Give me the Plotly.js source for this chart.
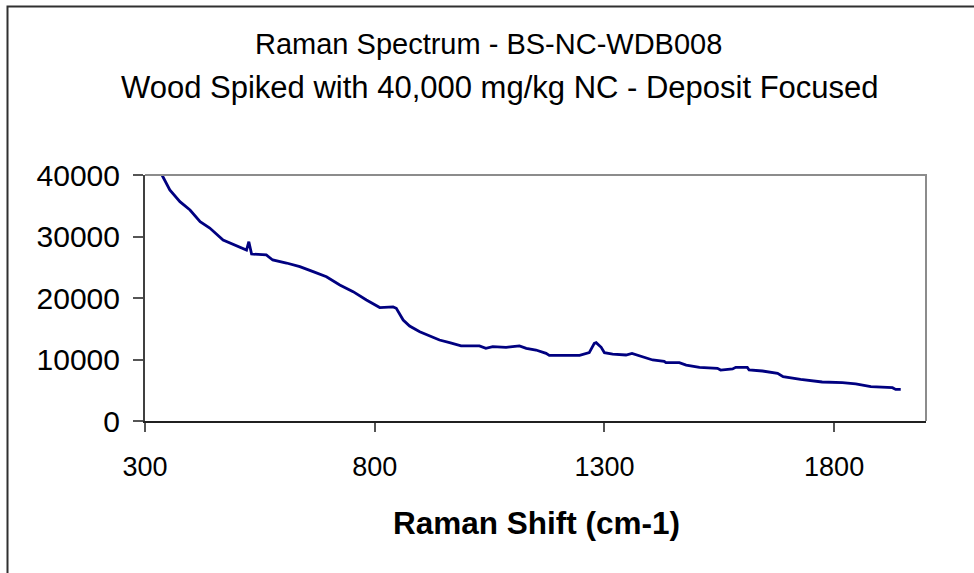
<!DOCTYPE html>
<html>
<head>
<meta charset="utf-8">
<script src="https://cdn.plot.ly/plotly-3.0.1.min.js"></script>
<style>
  html, body { margin: 0; padding: 0; background: #fff; }
  #chart { width: 974px; height: 573px; }
</style>
</head>
<body>
<div id="chart"></div>
<script>
// Raman shift (cm-1) values
const ramanShift = [337, 354, 376, 398, 420, 441, 470, 499, 521, 526, 532, 564, 578, 608, 637, 666, 695, 724, 753, 782,
  811, 840, 847, 862, 876, 898, 920, 941, 963, 988, 1028, 1042, 1057, 1086, 1100, 1115, 1130, 1151, 1173, 1180,
  1246, 1267, 1278, 1282, 1293, 1300, 1318, 1347, 1360, 1390, 1405, 1430, 1434, 1463, 1478, 1507, 1546, 1553, 1579,
  1586, 1611, 1615, 1644, 1677, 1689, 1727, 1774, 1818, 1847, 1880, 1927, 1934, 1945];
// Intensity values
const intensity = [40000, 37560, 35660, 34310, 32400, 31380, 29430, 28460, 27800, 29150, 27150, 27000, 26180, 25690, 25090, 24280, 23460, 22110, 21030, 19670,
  18450, 18550, 18320, 16420, 15440, 14520, 13820, 13170, 12730, 12200, 12200, 11820, 12080, 11980, 12080, 12200, 11820, 11540, 11000, 10680,
  10680, 11110, 12630, 12730, 11980, 11110, 10890, 10730, 11000, 10360, 9920, 9700, 9480, 9480, 9100, 8720, 8560, 8290, 8460,
  8720, 8720, 8290, 8130, 7750, 7200, 6760, 6340, 6230, 6020, 5580, 5420, 5140, 5140];

const titleLine1 = "Raman Spectrum - BS-NC-WDB008";
const titleLine2 = "Wood Spiked with 40,000 mg/kg NC - Deposit Focused";
const xTitle = "Raman Shift (cm-1)";
const xTicks = [300, 800, 1300, 1800];
const yTicks = [0, 10000, 20000, 30000, 40000];

const FONT = "Liberation Sans, Arial, sans-serif";

const trace = {
  x: ramanShift,
  y: intensity,
  type: "scatter",
  mode: "lines",
  line: { color: "#000080", width: 2.8, shape: "linear" },
  hoverinfo: "skip"
};

const L = 145, R = 974 - 926, T = 175, B = 573 - 421;
const pw = 974 - L - R, ph = 573 - T - B;
const px = v => (v - L) / pw;
const py = v => (573 - B - v) / ph;

const layout = {
  width: 974,
  height: 573,
  margin: { l: L, r: R, t: T, b: B, pad: 0 },
  paper_bgcolor: "#ffffff",
  plot_bgcolor: "#ffffff",
  showlegend: false,
  font: { family: FONT, color: "#000000", size: 26 },
  xaxis: {
    range: [300, 2000],
    tickvals: xTicks,
    ticktext: xTicks.map(String),
    showgrid: false,
    zeroline: false,
    showline: true,
    linecolor: "#202020",
    linewidth: 2,
    ticks: "outside",
    ticklen: 9,
    tickwidth: 2,
    tickcolor: "#555555",
    ticklabelstandoff: 12,
    tickfont: { family: FONT, size: 27, color: "#000" }
  },
  yaxis: {
    range: [0, 40000],
    tickvals: yTicks,
    ticktext: yTicks.map(String),
    showgrid: false,
    zeroline: false,
    showline: true,
    linecolor: "#404040",
    linewidth: 2,
    ticks: "outside",
    ticklen: 10,
    tickwidth: 2,
    tickcolor: "#555555",
    ticklabelstandoff: 7,
    tickfont: { family: FONT, size: 30, color: "#000" }
  },
  shapes: [
    // top & right frame of plot area
    { type: "path", xref: "paper", yref: "paper",
      path: "M 0 1 L 1 1 L 1 0", line: { color: "#8c8c8c", width: 2 } },
    // outer chart border (left & top)
    { type: "path", xref: "paper", yref: "paper",
      path: `M ${px(7.5)} ${py(600)} L ${px(7.5)} ${py(6.5)} L ${px(1000)} ${py(6.5)}`,
      line: { color: "#303030", width: 2 } }
  ],
  annotations: [
    { text: titleLine1, xref: "paper", yref: "paper", x: px(488), y: py(44),
      xanchor: "center", yanchor: "middle", showarrow: false,
      font: { family: FONT, size: 29, color: "#000" } },
    { text: titleLine2, xref: "paper", yref: "paper", x: px(500), y: py(88),
      xanchor: "center", yanchor: "middle", showarrow: false,
      font: { family: FONT, size: 31, color: "#000" } },
    { text: "<b>" + xTitle + "</b>", xref: "paper", yref: "paper", x: px(536), y: py(523),
      xanchor: "center", yanchor: "middle", showarrow: false,
      font: { family: FONT, size: 31.5, color: "#000" } }
  ]
};

Plotly.newPlot("chart", [trace], layout, { staticPlot: true, displayModeBar: false });
</script>
</body>
</html>
